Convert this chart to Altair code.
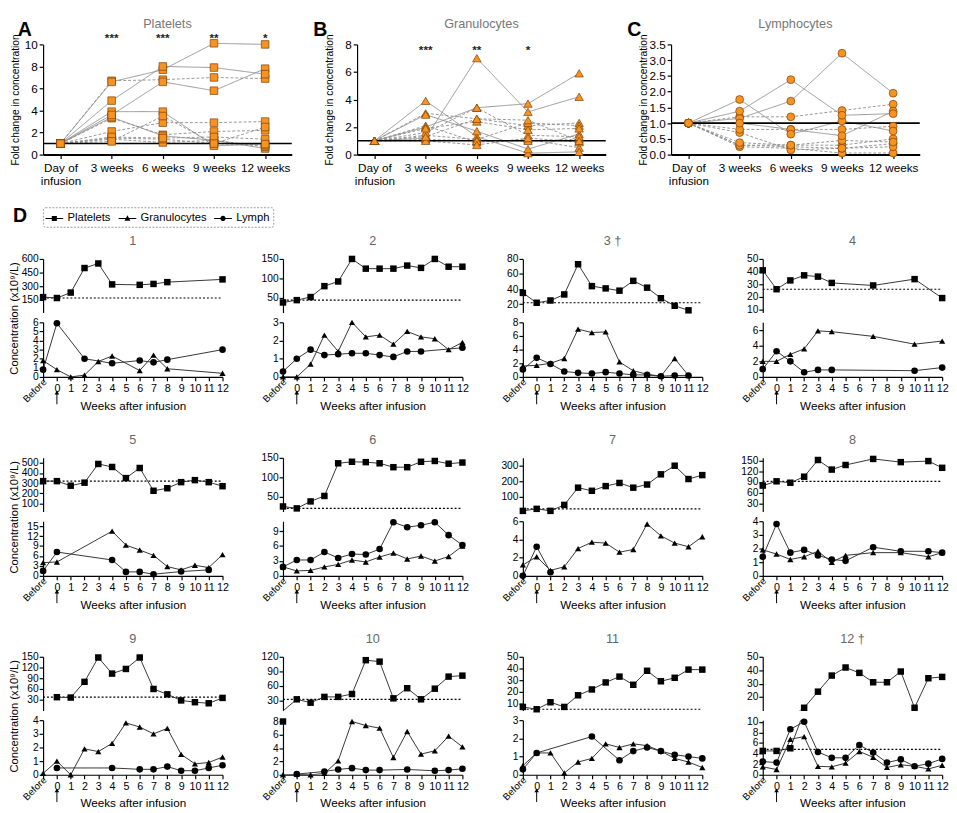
import altair as alt
import pandas as pd

FONT = "Liberation Sans"

# ---------------- Panels A-C : fold change ----------------
FC_CATS = [["Day of", "infusion"], "3 weeks", "6 weeks", "9 weeks", "12 weeks"]

PLT_FC = [
    [1, 3.3, 1.8, 2.1, 2.2],
    [1, 2.1, 2.9, 2.9, 3.0],
    [1, 3.4, 1.7, 1.3, 0.55],
    [1, 1.4, 1.1, 1.3, 0.7],
    [1, 1.5, 1.4, 1.0, 0.85],
    [1, 6.7, 6.8, 7.0, 6.9],
    [1, 6.6, 7.7, 10.1, 10.0],
    [1, 1.6, 1.5, 1.6, 1.4],
    [1, 3.9, 3.9, 0.8, 0.95],
    [1, 1.2, 3.5, 1.0, 2.5],
    [1, 3.6, 6.6, 5.8, 7.8],
    [1, 4.9, 8.0, 7.9, 7.3],
]
PLT_FC_SOLID = [False, False, True, False, False, False, True, False, True, False, True, True]

GRAN_FC = [
    [1, 2.1, 0.9, 1.1, 0.5],
    [1, 3.9, 1.3, 0.1, 0.2],
    [1, 3.0, 2.6, 2.1, 2.3],
    [1, 2.9, 1.7, 0.4, 1.5],
    [1, 2.0, 3.4, 3.7, 5.9],
    [1, 1.4, 1.1, 2.3, 2.1],
    [1, 1.1, 1.0, 1.0, 1.1],
    [1, 1.6, 3.4, 1.4, 1.3],
    [1, 1.2, 7.0, 3.1, 4.2],
    [1, 1.0, 0.7, 1.2, 0.9],
    [1, 1.9, 2.4, 1.8, 1.9],
    [1, 1.3, 2.6, 2.5, 1.0],
]
GRAN_FC_SOLID = [False, True, False, True, True, False, False, False, True, False, False, False]

LYM_FC = [
    [1, 0.3, 0.3, 0.3, 0.5],
    [1, 1.2, 1.2, 1.4, 1.6],
    [1, 0.25, 0.2, 0.05, 0.05],
    [1, 0.3, 0.25, 0.2, 0.35],
    [1, 0.7, 0.15, 0.2, 0.25],
    [1, 1.15, 1.7, 3.22, 1.95],
    [1, 0.8, 0.8, 0.8, 0.9],
    [1, 0.38, 0.3, 0.45, 0.4],
    [1, 1.0, 0.8, 0.6, 1.38],
    [1, 1.75, 0.65, 1.07, 0.75],
    [1, 1.38, 2.38, 1.25, 1.3],
]
LYM_FC_SOLID = [False, False, False, False, False, True, False, False, True, True, True]

PLT_STARS = ["", "***", "***", "**", "*"]
GRAN_STARS = ["", "***", "**", "*", ""]

# ---------------- Panel D : per patient ----------------
WEEKS = [-1, 0, 1, 2, 3, 4, 5, 6, 7, 8, 9, 10, 11, 12]   # -1 = Before
N = None
PLT = [
    [180, 170, 230, 500, 550, 320, N, 315, 325, 345, N, N, N, 375],
    [38, 44, 52, 80, 92, 150, 125, 125, 125, 133, 127, 150, 130, 130],
    [35, 22, 25, 33, 73, 44, 41, 38, 51, 42, 28, 18, 12, N],
    [41, 26, 33, 37, 36, 31, N, N, 29, N, N, 34, N, 19],
    [320, 320, 275, 305, 490, 460, 350, 450, 225, 250, 310, 330, 310, 270],
    [25, 20, 38, 52, 136, 140, 139, 136, 126, 126, 140, 142, 135, 138],
    [12, 25, 12, 50, 160, 140, 170, 190, 160, 180, 245, 300, 215, 240],
    [80, 92, 88, 105, 152, 125, 138, N, 155, N, 146, N, 149, 130],
    [N, 37, 36, 80, 148, 103, 116, 148, 60, 45, 28, 23, 20, 35],
    [8, 32, 25, 37, 37, 43, 113, 110, 34, 55, 32, 54, 79, 81],
    [7, 5, 11, 7, 17, 22, 28, 33, 26, 38, 29, 32, 39, 39],
    [4.5, 4.5, 5.0, 12, 24, 36, 42, 38, 31, 31, 39, 12, 34, 35],
]
GRAN = [
    [1.8, 0.8, 0, 0.2, 1.7, 2.3, N, 0.7, 2.4, 0.9, N, N, N, 0.4],
    [0, 0, 0.7, 2.3, 1.4, 3.0, 2.2, 2.3, 1.8, 2.5, 2.2, 2.1, 1.5, 1.9],
    [1.6, 1.7, 2.0, 2.7, 7.0, 6.5, 6.6, 2.2, 0.9, 0.4, 0.1, 2.7, 0.2, N],
    [2.0, 2.0, 2.9, 3.6, 5.9, 5.8, N, N, 5.2, N, N, 4.2, N, 4.6],
    [4.0, 4.2, N, N, N, 13.5, 9.3, 7.8, 6.2, 2.8, 1.8, 3.2, 2.5, 6.4],
    [1.8, 1.0, 1.1, 1.8, 2.3, 3.2, 2.8, 3.8, 4.6, 3.4, 4.0, 3.0, 3.9, 6.0],
    [1.2, 2.1, 0.6, 1.0, 3.0, 3.7, 3.6, 2.6, 2.9, 5.7, 4.4, 3.6, 3.2, 4.3],
    [1.9, 1.6, 1.2, 1.4, 1.8, 1.0, 1.5, N, 1.7, N, 1.7, N, 1.4, 1.7],
    [0.1, 1.0, 0, 1.9, 1.7, 2.3, 3.8, 3.5, 3.0, 3.4, 1.5, 0.8, 0.9, 1.3],
    [0, 0.05, 0, 0.2, 2.1, 8.0, 7.4, 7.0, 2.6, 6.5, 3.1, 3.6, 5.8, 4.2],
    [0.5, 1.2, 1.2, 0.1, 0.7, 0.9, 1.7, 1.5, 1.7, 1.6, 1.3, 0.9, 0.7, 0.4],
    [1.5, 1.0, 6.7, 7.2, 1.6, 1.5, 2.2, 4.4, 3.3, 1.4, 1.9, 1.6, 1.1, 1.8],
]
LYM = [
    [0.8, 5.9, N, 2.0, N, 1.5, N, 1.8, 1.6, 1.9, N, N, N, 3.0],
    [0.3, 1.0, 1.5, 1.2, 1.25, 1.3, 1.3, 1.2, 1.1, 1.4, 1.4, N, N, 1.6],
    [1.1, 2.8, 1.9, 0.8, 0.6, 0.5, 0.7, 0.5, 0.3, 0.3, 0.1, 0.2, 0.2, N],
    [1.0, 3.3, 2.0, 0.6, 0.9, 0.9, N, N, N, N, N, 0.8, N, 1.2],
    [1.5, 7.2, N, N, N, 4.8, 1.2, 1.2, 0.5, N, 1.3, N, 1.8, N],
    [1.8, 3.2, 3.2, 4.8, 3.6, 4.4, 4.3, 5.4, 10.8, 9.8, 10.2, 10.8, 8.2, 6.2],
    [0, 3.2, 0.4, N, N, N, N, N, N, N, N, N, N, N],
    [1.4, 3.8, 1.7, 1.9, 1.5, 1.2, 1.1, N, 2.1, N, 1.8, N, 1.8, 1.7],
    [N, 0.5, N, N, N, 0.5, N, 0.4, 0.4, 0.6, 0.3, 0.3, 0.5, 0.7],
    [N, 0.1, N, 0.5, 0.8, 1.0, 0.7, 0.7, N, 0.8, N, 0.6, 0.7, 0.9],
    [0.3, 1.2, N, N, N, 2.1, N, 0.8, 1.3, 1.5, 1.3, 1.1, 1.0, 0.9],
    [2.5, 2.3, 8.6, 10.0, 4.3, 3.2, 3.2, 5.6, 4.2, 2.3, 2.9, 1.6, 2.1, 3.0],
]
BASELINE = [170, 44, 22, 26, 320, 20, 25, 92, 37, 32, 5, 4.8]
TITLES = ["1", "2", "3 †", "4", "5", "6", "7", "8", "9", "10", "11", "12 †"]
TOP_DOM = [[10, 600], [12, 150], [9, 80], [7.5, 50], [20, 550], [12, 150], [8, 350],
           [7, 158], [0, 150], [9, 120], [4, 50], [10, 50]]
TOP_TICKS = [[150, 300, 450, 600], [50, 100, 150], [20, 40, 60, 80], [10, 20, 30, 40, 50],
             [100, 200, 300, 400, 500], [50, 100, 150], [100, 200, 300],
             [30, 60, 90, 120, 150], [30, 60, 90, 120, 150], [30, 60, 90, 120],
             [10, 20, 30, 40, 50], [20, 30, 40, 50]]
BOT_DOM = [[0, 6], [0, 3], [0, 8], [0, 7], [0, 16.5], [0, 11], [0, 6], [0, 4], [0, 4],
           [0, 8.2], [0, 3], [0, 10.3]]
BOT_TICKS = [[0, 1, 2, 3, 4, 5, 6], [0, 1, 2, 3], [0, 2, 4, 6, 8], [0, 2, 4, 6],
             [0, 3, 6, 9, 12, 15], [0, 3, 6, 9], [0, 2, 4, 6], [0, 1, 2, 3, 4],
             [0, 1, 2, 3, 4], [0, 2, 4, 6, 8], [0, 1, 2, 3], [0, 2, 4, 6, 8, 10]]
LEGEND_ITEMS = ["Platelets", "Granulocytes", "Lymph"]

# ---------------- styling ----------------
ORANGE = "#F7931E"
ORANGE_EDGE = "#7a3f0c"
LINE_C = "#333333"
TOP_H, BOT_H, PW, GAP = 55, 56, 184, 10
Y_EXT = 25
FC_W, FC_H = 255, 113
FC_XDOM = [-0.34, 4.52]


def fc_chart(series, solid, stars, letter, letter_x, title, shape, size, dom_y, yticks, yfmt, star_y):
    rows = []
    for p, vals in enumerate(series):
        for i, v in enumerate(vals):
            rows.append({"patient": p, "idx": i, "value": v, "style": "solid" if solid[p] else "dash"})
    df = pd.DataFrame(rows)
    X = alt.X("idx:Q", scale=alt.Scale(domain=FC_XDOM, nice=False, zero=False),
              axis=alt.Axis(values=[0, 1, 2, 3, 4], labelExpr=f"{FC_CATS}[datum.value]",
                            title=None, labelFontSize=12, labelPadding=4, domainWidth=2, tickSize=4,
                            labelLineHeight=14))
    Y = alt.Y("value:Q", scale=alt.Scale(domain=dom_y, nice=False, zero=False),
              axis=alt.Axis(values=yticks, format=yfmt, title="Fold change in concentration",
                            titleFontSize=10.5, titlePadding=3, labelFontSize=12,
                            minExtent=20, maxExtent=20))
    base = alt.Chart(df)
    lines = base.mark_line(color="#8a8a8a", strokeWidth=0.9).encode(
        x=X, y=Y, detail="patient:N",
        strokeDash=alt.StrokeDash("style:N", scale=alt.Scale(domain=["solid", "dash"], range=[[1, 0], [3, 2]]),
                                  legend=None))
    ref = alt.Chart(pd.DataFrame({"value": [1]})).mark_rule(color="black", strokeWidth=1.6).encode(y=Y)
    pts = base.mark_point(shape=shape, filled=True, fill=ORANGE, stroke=ORANGE_EDGE, strokeWidth=0.7,
                          size=size, opacity=1).encode(x=X, y=Y)
    sdf = pd.DataFrame({"idx": list(range(5)), "label": stars, "value": [star_y] * 5})
    st = alt.Chart(sdf).mark_text(fontSize=12, fontWeight="bold", color="#222").encode(x=X, y=Y, text="label:N")
    let = alt.Chart(pd.DataFrame({"t": [letter]})).mark_text(
        fontSize=20, fontWeight="bold", color="black", align="left", baseline="middle").encode(
        x=alt.value(letter_x), y=alt.value(-15), text="t:N")
    ttl = alt.Chart(pd.DataFrame({"t": [title]})).mark_text(
        fontSize=13, color="#777", align="center", baseline="middle").encode(
        x=alt.value(FC_W / 2), y=alt.value(-21), text="t:N")
    return alt.layer(lines, ref, pts, st, let, ttl).properties(width=FC_W, height=FC_H)


A = fc_chart(PLT_FC, PLT_FC_SOLID, PLT_STARS, "A", -26, "Platelets", "square", 60, [0, 10],
             [0, 2, 4, 6, 8, 10], "d", 10.6)
B = fc_chart(GRAN_FC, GRAN_FC_SOLID, GRAN_STARS, "B", -45, "Granulocytes", "triangle-up", 75, [0, 8],
             [0, 2, 4, 6, 8], "d", 7.6)
C = fc_chart(LYM_FC, LYM_FC_SOLID, [""] * 5, "C", -45, "Lymphocytes", "circle", 65, [0, 3.5],
             [0, 0.5, 1, 1.5, 2, 2.5, 3, 3.5], ".1f", 3.6)
top_row = alt.hconcat(A, B, C, spacing=21)


# ---------------- Legend row ----------------
# symbol = thin filled bar (the line) + marker
BAR = "M-1.15,-0.065H1.15V0.065H-1.15Z"
P_SQ = BAR + "M-0.33,-0.33H0.33V0.33H-0.33Z"
P_TRI = BAR + "M0,-0.42L0.38,0.28H-0.38Z"
P_CIR = BAR + "M0.34,0A0.34,0.34 0 1,1 -0.34,0A0.34,0.34 0 1,1 0.34,0Z"
leg_pts = alt.Chart(pd.DataFrame({"series": LEGEND_ITEMS})).transform_filter("false").mark_point(
    filled=True, color="black", opacity=1).encode(
    shape=alt.Shape("series:N", scale=alt.Scale(domain=LEGEND_ITEMS, range=[P_SQ, P_TRI, P_CIR]),
                    legend=alt.Legend(title=None, orient="top-left", direction="horizontal", offset=0,
                                      symbolSize=250, symbolFillColor="black", symbolStrokeColor="black",
                                      symbolStrokeWidth=0.4, symbolOpacity=1, labelFontSize=11.5,
                                      labelFont=FONT, columnPadding=6, labelOffset=5,
                                      strokeColor="#9a9a9a", padding=3, cornerRadius=2)))
leg_letter = alt.Chart(pd.DataFrame({"t": ["D"]})).mark_text(
    fontSize=20, fontWeight="bold", color="black", align="left", baseline="middle").encode(
    x=alt.value(-31), y=alt.value(9), text="t:N")
legend_chart = alt.layer(leg_pts, leg_letter).properties(width=300, height=16)


# ---------------- Panel D ----------------
def xenc(axis):
    return alt.X("week:Q", scale=alt.Scale(domain=[-1, 12], nice=False, zero=False), axis=axis)


def series_df(vals):
    return pd.DataFrame({"week": WEEKS, "value": vals}).dropna()


def in_dom(df, dom):
    return df[(df["value"] >= dom[0]) & (df["value"] <= dom[1])]


def panel(k, first):
    tdom, bdom = TOP_DOM[k], BOT_DOM[k]
    dplt, dgran, dlym = series_df(PLT[k]), series_df(GRAN[k]), series_df(LYM[k])

    # top part (platelets)
    ty = alt.Y("value:Q", scale=alt.Scale(domain=tdom, nice=False, zero=False),
               axis=alt.Axis(values=TOP_TICKS[k], title=None, minExtent=Y_EXT, maxExtent=Y_EXT,
                             labelFontSize=10.5, labelOverlap=False, labelPadding=1))
    tx = xenc(None)
    tl = []
    if tdom[0] <= BASELINE[k] <= tdom[1]:
        tl.append(alt.Chart(pd.DataFrame({"week": [-1], "week2": [12], "value": [BASELINE[k]]})).mark_rule(
            color="black", strokeWidth=1.2, strokeDash=[2, 2]).encode(x=tx, x2="week2:Q", y=ty))
    tl.append(alt.Chart(dplt).mark_line(clip=True, color=LINE_C, strokeWidth=1).encode(x=tx, y=ty))
    tp = in_dom(dplt, tdom)
    if len(tp):
        tl.append(alt.Chart(tp).mark_point(shape="square", filled=True, color="black", size=44,
                                           opacity=1).encode(x=tx, y=ty))
    tl.append(alt.Chart(pd.DataFrame({"t": [TITLES[k]]})).mark_text(
        fontSize=13, color="#666", align="center", baseline="middle").encode(
        x=alt.value(PW / 2), y=alt.value(-18), text="t:N"))
    top = alt.layer(*tl).properties(width=PW, height=TOP_H)

    # bottom part (granulocytes, lymphocytes)
    yaxis = dict(values=BOT_TICKS[k], minExtent=Y_EXT, maxExtent=Y_EXT, labelFontSize=10.5,
                 labelOverlap=False, labelPadding=1)
    if first:
        yaxis.update(title="Concentration (x10⁹/L)", titleFontSize=11.5, titleX=-24,
                     titleY=(BOT_H - TOP_H - GAP) / 2, titleBaseline="bottom", titleAngle=270)
    else:
        yaxis.update(title=None)
    by = alt.Y("value:Q", scale=alt.Scale(domain=bdom, nice=False, zero=False), axis=alt.Axis(**yaxis))
    bx = xenc(alt.Axis(values=WEEKS, labelExpr="datum.value < 0 ? '' : datum.value", labelFontSize=11,
                       labelPadding=2, title="Weeks after infusion", titleFontSize=12, titlePadding=7,
                       labelFlush=False, labelOverlap=False))
    bl = []
    if len(in_dom(dplt, bdom)):
        bl.append(alt.Chart(dplt).mark_line(clip=True, color=LINE_C, strokeWidth=1).encode(x=bx, y=by))
    if bdom[0] <= BASELINE[k] <= bdom[1] and not (tdom[0] <= BASELINE[k] <= tdom[1]):
        bl.append(alt.Chart(pd.DataFrame({"week": [-1], "week2": [12], "value": [BASELINE[k]]})).mark_rule(
            color="black", strokeWidth=1.2, strokeDash=[2, 2]).encode(x=bx, x2="week2:Q", y=by))
    bl.append(alt.Chart(dgran).mark_line(clip=True, color=LINE_C, strokeWidth=1).encode(x=bx, y=by))
    bl.append(alt.Chart(dlym).mark_line(clip=True, color=LINE_C, strokeWidth=1).encode(x=bx, y=by))
    bl.append(alt.Chart(in_dom(dgran, bdom)).mark_point(shape="triangle-up", filled=True, color="black",
                                                       size=40, opacity=1).encode(x=bx, y=by))
    bl.append(alt.Chart(in_dom(dlym, bdom)).mark_point(shape="circle", filled=True, color="black",
                                                      size=46, opacity=1).encode(x=bx, y=by))
    bp = in_dom(dplt, bdom)
    if len(bp):
        bl.append(alt.Chart(bp).mark_point(shape="square", filled=True, color="black", size=44,
                                           opacity=1).encode(x=bx, y=by))
    # rotated "Before" label and the infusion arrow
    bl.append(alt.Chart(pd.DataFrame({"week": [-1], "t": ["Before"]})).mark_text(
        angle=315, align="right", baseline="middle", fontSize=10, dx=3, color="black").encode(
        x=bx, y=alt.value(BOT_H + 6), text="t:N"))
    ar = pd.DataFrame({"week": [0]})
    bl.append(alt.Chart(ar).mark_rule(color="black", strokeWidth=1).encode(
        x=bx, y=alt.value(BOT_H + 15), y2=alt.value(BOT_H + 28)))
    bl.append(alt.Chart(ar).mark_point(shape="triangle-up", filled=True, color="black", size=22,
                                       opacity=1).encode(x=bx, y=alt.value(BOT_H + 16)))
    bottom = alt.layer(*bl).properties(width=PW, height=BOT_H)
    return alt.vconcat(top, bottom, spacing=GAP, bounds="flush")


rows = []
for r in range(3):
    rows.append(alt.hconcat(*[panel(r * 4 + c, c == 0) for c in range(4)], spacing=30))
d_block = alt.vconcat(*rows, spacing=24)
lower = alt.vconcat(legend_chart, d_block, spacing=10)

chart = alt.vconcat(top_row, lower, spacing=20).resolve_scale(
    shape="independent"
).resolve_legend(
    shape="independent"
).properties(
    padding={"left": 0, "top": 0, "right": 0, "bottom": 0}
).configure_view(
    stroke=None
).configure_axis(
    domainColor="black", tickColor="black", labelColor="black", titleColor="black", grid=False,
    labelFont=FONT, titleFont=FONT, labelFontSize=11, titleFontWeight="normal", tickSize=4,
    domainWidth=1.2, tickWidth=1.2
).configure_text(
    font=FONT
).configure_legend(
    labelFont=FONT, strokeDash=[2, 1.5]
)

chart.save("out.html", embed_options={"renderer": "svg", "actions": False})
